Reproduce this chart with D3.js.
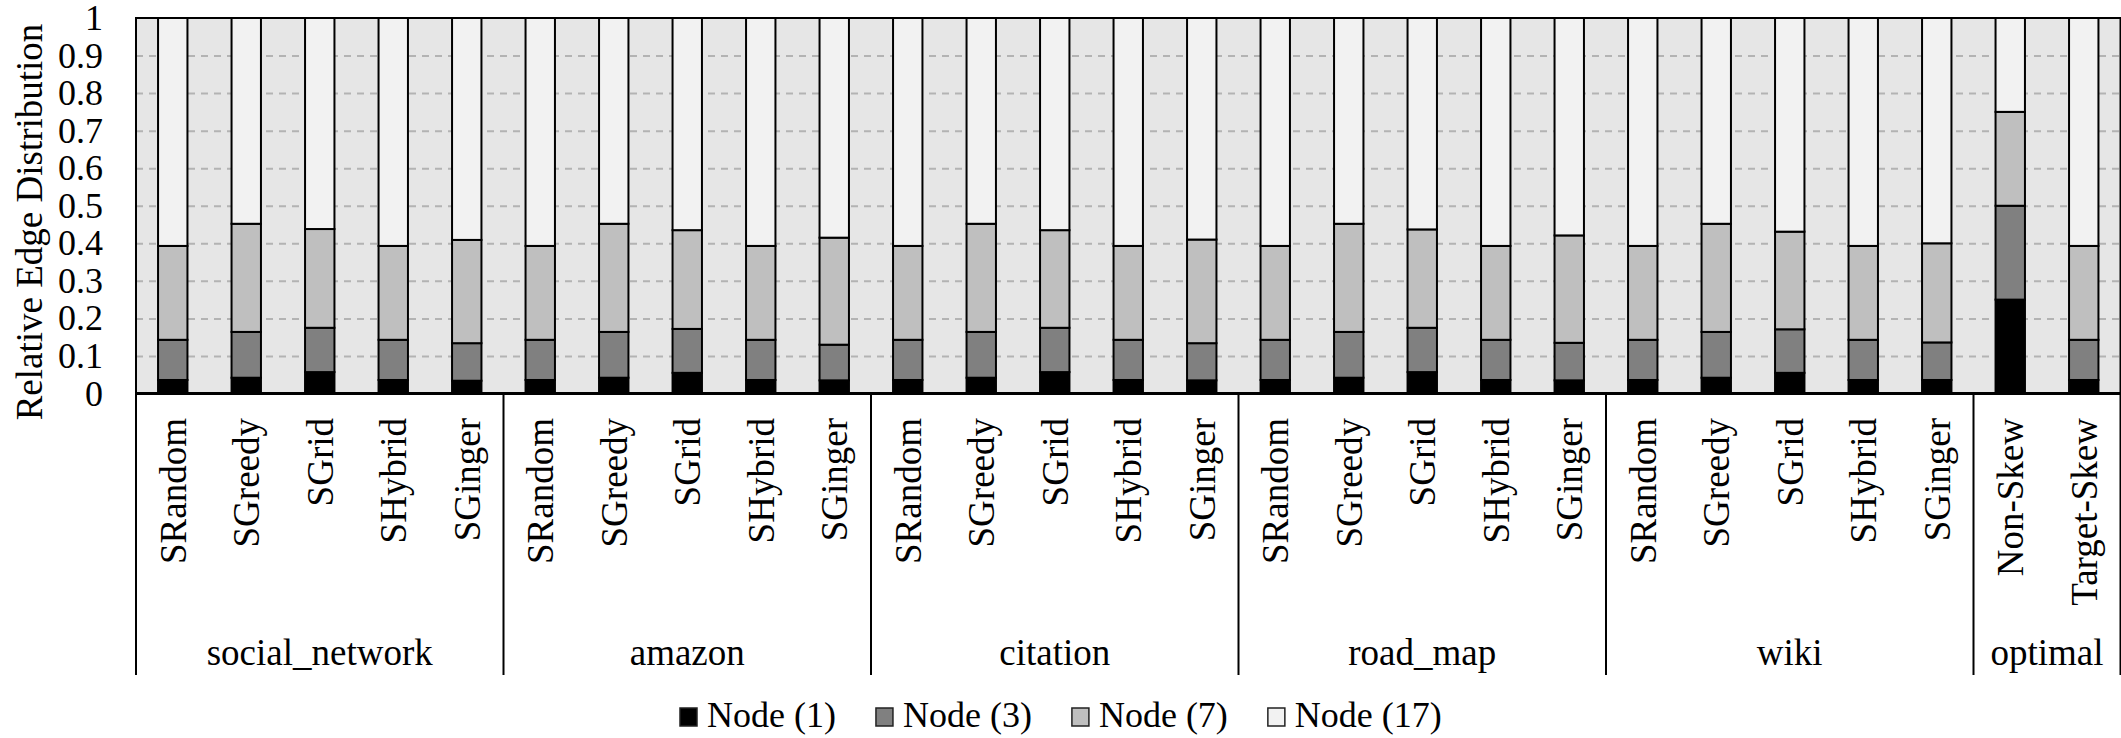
<!DOCTYPE html>
<html>
<head>
<meta charset="utf-8">
<script src="https://cdn.jsdelivr.net/npm/d3@7"></script>
<style>
  body { margin: 0; background: #fff; }
</style>
</head>
<body>
<svg id="chart" width="2121" height="738"></svg>
<script>
// datasets and the methods run on each
const groups = ["social_network", "amazon", "citation", "road_map", "wiki", "optimal"];
const groupSizes = [5, 5, 5, 5, 5, 2];
const methods = [
  "SRandom", "SGreedy", "SGrid", "SHybrid", "SGinger",
  "SRandom", "SGreedy", "SGrid", "SHybrid", "SGinger",
  "SRandom", "SGreedy", "SGrid", "SHybrid", "SGinger",
  "SRandom", "SGreedy", "SGrid", "SHybrid", "SGinger",
  "SRandom", "SGreedy", "SGrid", "SHybrid", "SGinger",
  "Non-Skew", "Target-Skew"
];

// share of edges per node class (one value per bar)
const node1 = [0.036, 0.042, 0.057, 0.036, 0.034, 0.036, 0.042, 0.055, 0.036, 0.035,
  0.036, 0.042, 0.057, 0.036, 0.035, 0.036, 0.042, 0.057, 0.036, 0.035,
  0.036, 0.042, 0.055, 0.036, 0.036, 0.25, 0.036];
const node3 = [0.107, 0.122, 0.118, 0.107, 0.100, 0.107, 0.122, 0.117, 0.107, 0.095,
  0.107, 0.122, 0.118, 0.107, 0.099, 0.107, 0.122, 0.118, 0.107, 0.100,
  0.107, 0.122, 0.116, 0.107, 0.100, 0.25, 0.107];
const node7 = [0.250, 0.288, 0.263, 0.250, 0.275, 0.250, 0.288, 0.263, 0.250, 0.285,
  0.250, 0.288, 0.260, 0.250, 0.276, 0.250, 0.288, 0.262, 0.250, 0.286,
  0.250, 0.288, 0.260, 0.250, 0.264, 0.25, 0.250];
const node17 = [0.607, 0.548, 0.562, 0.607, 0.591, 0.607, 0.548, 0.565, 0.607, 0.585,
  0.607, 0.548, 0.565, 0.607, 0.590, 0.607, 0.548, 0.563, 0.607, 0.579,
  0.607, 0.548, 0.569, 0.607, 0.600, 0.25, 0.607];

const seriesNames = ["Node (1)", "Node (3)", "Node (7)", "Node (17)"];
const seriesColors = ["#000000", "#808080", "#bfbfbf", "#f2f2f2"];
const yTicks = [0, 0.1, 0.2, 0.3, 0.4, 0.5, 0.6, 0.7, 0.8, 0.9, 1];
const yTickLabels = ["0", "0.1", "0.2", "0.3", "0.4", "0.5", "0.6", "0.7", "0.8", "0.9", "1"];

const svg = d3.select("#chart");
const plotLeft = 136, plotRight = 2120.5, plotTop = 18, plotBottom = 393.5;
const fontSize = 36;
const serif = "'Liberation Serif'";

// one row per bar for d3.stack
const rows = methods.map((m, i) => ({
  idx: i, k0: node1[i], k1: node3[i], k2: node7[i], k3: node17[i]
}));
const stacked = d3.stack().keys(["k0", "k1", "k2", "k3"])(rows);

const x = d3.scaleBand()
  .domain(d3.range(methods.length))
  .range([plotLeft, plotRight])
  .paddingInner(0.6)
  .paddingOuter(0.3);

const y = d3.scaleLinear().domain([0, 1]).range([plotBottom, plotTop]);

// plot background
svg.append("rect")
  .attr("x", plotLeft).attr("y", plotTop)
  .attr("width", plotRight - plotLeft).attr("height", plotBottom - plotTop)
  .attr("fill", "#e6e6e6");

// dashed grid lines
svg.append("g")
  .attr("transform", "translate(" + plotLeft + ",0)")
  .call(d3.axisLeft(y).tickValues(yTicks.slice(1, -1)).tickSize(-(plotRight - plotLeft)).tickFormat(""))
  .call(g => g.select(".domain").remove())
  .call(g => g.selectAll(".tick line")
    .attr("stroke", "#b3b3b3")
    .attr("stroke-width", 2)
    .attr("stroke-dasharray", "7,6"));

// y tick labels
svg.append("g")
  .attr("transform", "translate(" + plotLeft + ",0)")
  .attr("font-family", null)
  .call(d3.axisLeft(y).tickValues(yTicks).tickSize(0).tickPadding(33)
    .tickFormat((d, i) => yTickLabels[i]))
  .call(g => g.select(".domain").remove())
  .call(g => g.attr("font-family", null).attr("font-size", null))
  .call(g => g.selectAll(".tick text")
    .style("font-family", serif)
    .style("font-size", fontSize + "px")
    .attr("fill", "#000"));

// stacked bars
svg.append("g")
  .selectAll("g")
  .data(stacked)
  .join("g")
  .attr("fill", (d, i) => seriesColors[i])
  .selectAll("rect")
  .data(d => d)
  .join("rect")
  .attr("x", d => x(d.data.idx))
  .attr("width", x.bandwidth())
  .attr("y", d => y(d[1]))
  .attr("height", d => y(d[0]) - y(d[1]))
  .attr("stroke", "#000")
  .attr("stroke-width", 2);

// plot frame
svg.append("rect")
  .attr("x", plotLeft).attr("y", plotTop)
  .attr("width", plotRight - plotLeft).attr("height", plotBottom - plotTop)
  .attr("fill", "none")
  .attr("stroke", "#000")
  .attr("stroke-width", 2);
svg.append("line")
  .attr("x1", plotLeft).attr("x2", plotRight)
  .attr("y1", plotBottom).attr("y2", plotBottom)
  .attr("stroke", "#000").attr("stroke-width", 3);

// rotated method labels
svg.append("g")
  .selectAll("text")
  .data(methods)
  .join("text")
  .attr("transform", (d, i) =>
    "translate(" + (x(i) + x.bandwidth() / 2) + ",418) rotate(-90)")
  .attr("dy", "0.35em")
  .attr("text-anchor", "end")
  .style("font-family", serif)
  .style("font-size", "37px")
  .text(d => d);

// group separators and names
const gap = (x.step() - x.bandwidth()) / 2;
let start = 0;
const bounds = [];
groupSizes.forEach(n => {
  bounds.push([x(start) - gap, x(start + n - 1) + x.bandwidth() + gap]);
  start += n;
});

const sepX = [bounds[0][0]].concat(bounds.map(b => b[1]));
svg.append("g")
  .selectAll("line")
  .data(sepX)
  .join("line")
  .attr("x1", d => d).attr("x2", d => d)
  .attr("y1", plotBottom).attr("y2", 675)
  .attr("stroke", "#000")
  .attr("stroke-width", 2);

svg.append("g")
  .selectAll("text")
  .data(groups)
  .join("text")
  .attr("x", (d, i) => (bounds[i][0] + bounds[i][1]) / 2)
  .attr("y", 665)
  .attr("text-anchor", "middle")
  .style("font-family", serif)
  .style("font-size", "37px")
  .text(d => d);

// y axis title
svg.append("text")
  .attr("transform", "translate(42,222) rotate(-90)")
  .attr("text-anchor", "middle")
  .style("font-family", serif)
  .style("font-size", "37px")
  .text("Relative Edge Distribution");

// legend
const legend = svg.append("g");
let lx = 680;
seriesNames.forEach((name, i) => {
  legend.append("rect")
    .attr("x", lx).attr("y", 708)
    .attr("width", 17).attr("height", 18)
    .attr("fill", seriesColors[i])
    .attr("stroke", "#222")
    .attr("stroke-width", 1.5);
  const t = legend.append("text")
    .attr("x", lx + 27).attr("y", 727)
    .style("font-family", serif)
    .style("font-size", fontSize + "px")
    .text(name);
  lx += 27 + t.node().getComputedTextLength() + 40;
});
</script>
</body>
</html>
